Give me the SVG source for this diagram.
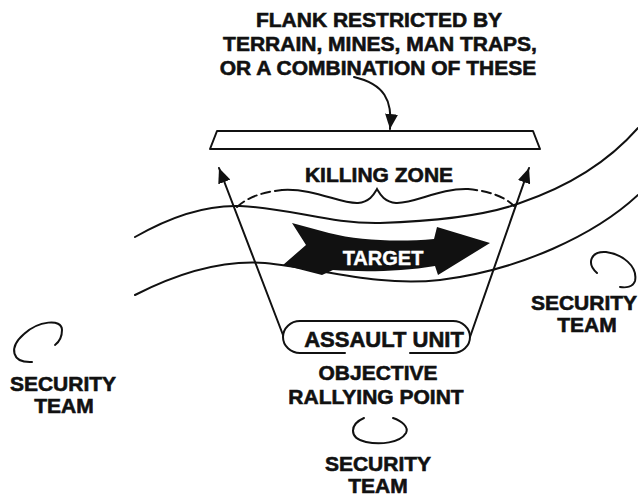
<svg xmlns="http://www.w3.org/2000/svg" width="638" height="496" viewBox="0 0 638 496">
<style>
  .t { font-family: "Liberation Sans", Arial, sans-serif; font-weight: bold; font-size: 21px; fill: #111; stroke: #111; stroke-width: 0.6; text-anchor: middle; }
  .ln { fill: none; stroke: #111; stroke-width: 2; stroke-linecap: round; }
  .dash { stroke-dasharray: 9 5; }
</style>
<defs>
  <marker id="ah" markerUnits="userSpaceOnUse" markerWidth="15" markerHeight="13" refX="15" refY="6.5" orient="auto">
    <path d="M0,0 L15,6.5 L0,13 z" fill="#111"/>
  </marker>
</defs>
<rect width="638" height="496" fill="#fff"/>

<g id="terrain">
  <path class="ln" d="M135 237 C175 214 210 205 240 206 C290 208 330 224 380 223 C440 221 490 214 520 203 C570 186 610 160 638 128"/>
  <path class="ln" d="M135 295 C180 272 225 260 265 263 C320 268 375 287 440 280 C520 270 595 235 638 195"/>
</g>

<g id="flank-label">
  <text class="t" x="379" y="27">FLANK RESTRICTED BY</text>
  <text class="t" x="380" y="51">TERRAIN, MINES, MAN TRAPS,</text>
  <text class="t" x="378" y="75">OR A COMBINATION OF THESE</text>
</g>

<g id="flank-barrier">
  <polygon points="217,131 533,131 540,149 210,149" fill="#fff" stroke="#111" stroke-width="2" stroke-linejoin="round"/>
</g>

<g id="killing-zone">
  <text class="t" x="379" y="182">KILLING ZONE</text>
  <path class="ln dash" d="M237 207 Q252 193 282 190"/>
  <path class="ln" d="M282 190 C315 188 340 204 358 203 C370 202 374 194 377 189 C380 194 384 202 396 203 C414 204 440 188 468 189"/>
  <path class="ln dash" d="M468 189 Q500 192 514 206"/>
</g>

<g id="target">
  <path d="M292 223 L329 233 C360 241 400 242 434 239 L437 227 L490 243 L438 275 L435 266 C400 272 360 272 333 270 L322 275 L283 265 L306 245 Z" fill="#111"/>
  <text class="t" x="383" y="265" style="fill:#fff;stroke:#fff;stroke-width:0.4;font-size:20px">TARGET</text>
</g>

<g id="assault-unit">
  <path class="ln" d="M345 353 L300 353 A17 16 0 0 1 300 321 L453 321 A17 16 0 0 1 453 353 L410 353"/>
  <text class="t" x="384" y="347" style="font-size:22px">ASSAULT UNIT</text>
</g>

<g id="objective-rallying-point">
  <text class="t" x="378" y="380">OBJECTIVE</text>
  <text class="t" x="376" y="404">RALLYING POINT</text>
</g>

<g id="security-team-bottom">
  <path class="ln" d="M364 418 C350 424 348 438 366 442 C380 445 400 443 406 433 C409 427 402 421 393 418"/>
  <text class="t" x="378" y="471">SECURITY</text>
  <text class="t" x="378" y="493">TEAM</text>
</g>

<g id="security-team-left">
  <path class="ln" d="M32 362 C12 363 8 348 24 334 C38 321 62 318 62 330 C62 337 59 342 55 345"/>
  <text class="t" x="63" y="391">SECURITY</text>
  <text class="t" x="64" y="413">TEAM</text>
</g>

<g id="security-team-right">
  <path class="ln" d="M597 273 C586 263 591 251 606 252 C622 254 638 266 635 281 C633 287 626 288 620 287"/>
  <text class="t" x="584" y="310">SECURITY</text>
  <text class="t" x="587" y="332">TEAM</text>
</g>

<g id="connectors">
  <path class="ln" d="M354 77 C384 84 393 100 390 129" marker-end="url(#ah)"/>
  <path class="ln" d="M283 335 L219 168" marker-end="url(#ah)"/>
  <path class="ln" d="M470 337 L529 168" marker-end="url(#ah)"/>
</g>
</svg>
